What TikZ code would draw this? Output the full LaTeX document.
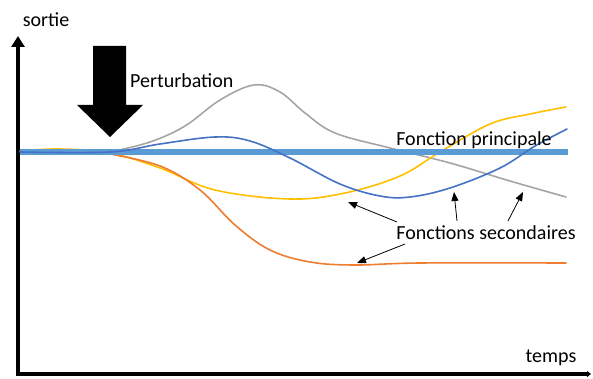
\documentclass[tikz,border=0pt]{standalone}
\usepackage{fontspec}
\setmainfont{Carlito}
\usetikzlibrary{arrows.meta}
\definecolor{mainblue}{HTML}{5B9BD5}
\definecolor{curveblue}{HTML}{4472C4}
\definecolor{curvegray}{HTML}{A5A5A5}
\definecolor{curveyellow}{HTML}{FFC000}
\definecolor{curveorange}{HTML}{ED7D31}
\tikzset{
  curve/.style={line width=1.6pt,line cap=round},
  pointer/.style={-{Triangle[length=9pt,width=7pt]},line width=0.8pt},
  lbl/.style={font=\fontsize{20}{22}\selectfont,inner sep=0pt}
}
\begin{document}
\begin{tikzpicture}[x=1pt,y=-1pt]
\useasboundingbox (0,0) rectangle (593,379);
% axes
\coordinate (O) at (18,374);
\coordinate (ytop) at (18,36);
\coordinate (xend) at (591,374);
\draw [line width=3.5pt,-{Triangle[length=11pt,width=13pt]}] (O) -- (ytop);
\draw [line width=3.5pt,-{Triangle[length=4pt,width=6pt]}] ([xshift=-1.75pt]O) -- (xend);
\node [lbl] (sortie) at (46,20) {sortie};
\node [lbl] (temps) at (551,358) {temps};
% perturbation
\fill (93,46) -- (126,46) -- (126,105) -- (143,105) -- (110,137) -- (77,105) -- (93,105) -- cycle;
\node [lbl,anchor=west] (pert) at (130,81) {Perturbation};
% secondary curves
\draw [curve,curvegray] plot [smooth,tension=0.6] coordinates {(110,152) (150,142) (185,126) (220,100) (254,85) (280,92) (305,113) (335,133) (390,148) (450,163) (510,181) (566,197)};
\draw [curve,curveyellow] plot [smooth,tension=0.6] coordinates {(20,151) (60,149) (110,153) (160,168) (215,190) (290,199) (345,193) (400,176) (440,152) (490,124) (530,114) (566,107)};
\draw [curve,curveorange] plot [smooth,tension=0.6] coordinates {(105,153) (160,166) (200,190) (235,225) (270,250) (310,262) (355,265) (420,263) (566,263)};
% main function
\draw [line width=6pt,mainblue] (20,152.5) coordinate (mstart) -- (568,152.5) coordinate (mend);
\draw [curve,curveblue] plot [smooth,tension=0.6] coordinates {(20,152) (110,152) (160,144) (215,137) (250,141) (290,158) (340,184) (380,196) (410,197) (450,188) (500,168) (535,146) (567,129)};
\node [lbl] (princ) at (474,140) {Fonction principale};
% labels of the secondary curves
\node [lbl] (sec) at (486,233) {Fonctions secondaires};
\coordinate (tipy) at (348,202);
\coordinate (tipb) at (454,192);
\coordinate (tipg) at (523,192);
\coordinate (tipo) at (357,263);
\draw [pointer] (397,222) coordinate (s1) -- (tipy);
\draw [pointer] (457,221) coordinate (s2) -- (tipb);
\draw [pointer] (508,221) coordinate (s3) -- (tipg);
\draw [pointer] (405,244) coordinate (s4) -- (tipo);
\end{tikzpicture}
\end{document}
